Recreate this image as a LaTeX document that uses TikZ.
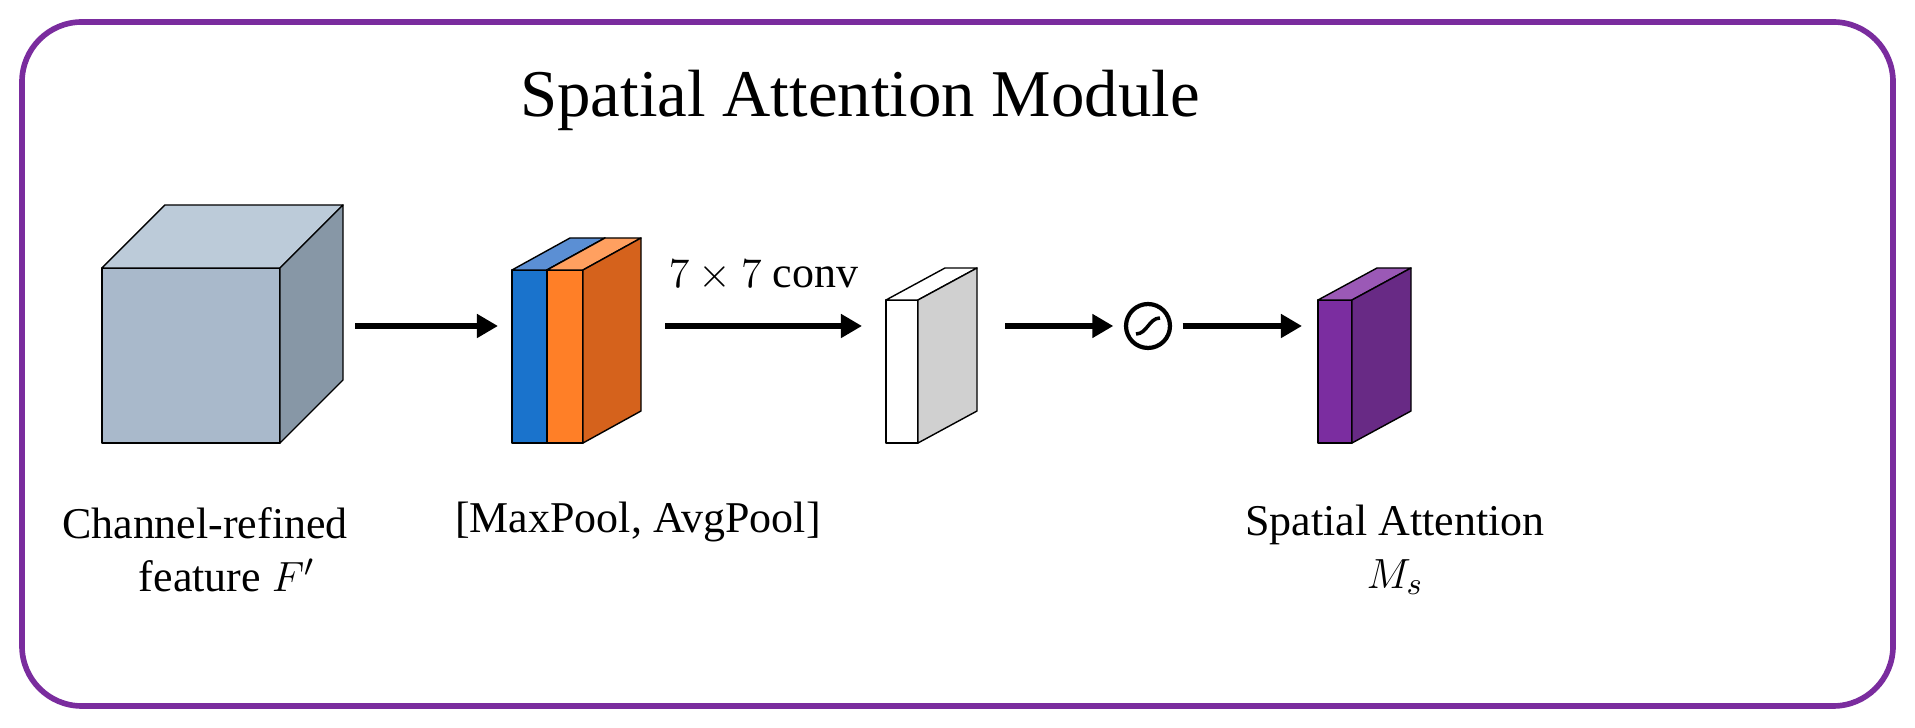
\documentclass[tikz,border=0pt]{standalone}
\usepackage{fontspec}
\setmainfont{Liberation Serif}
\usepackage{amsmath}
\usetikzlibrary{arrows.meta,calc,positioning}

\definecolor{cubefront}{HTML}{A9B9CB}
\definecolor{cubetop}{HTML}{BCCBD9}
\definecolor{cubeside}{HTML}{8797A6}
\definecolor{maxfront}{HTML}{1A73CC}
\definecolor{maxtop}{HTML}{5B8FD4}
\definecolor{avgfront}{HTML}{FF7F27}
\definecolor{avgtop}{HTML}{FFA060}
\definecolor{avgside}{HTML}{D5621C}
\definecolor{convside}{HTML}{D0D0D0}
\definecolor{attfront}{HTML}{7B2DA0}
\definecolor{atttop}{HTML}{9B59B6}
\definecolor{attside}{HTML}{682A85}
\definecolor{frame}{HTML}{7A2C9E}

% front face, top face and side face of a box
\newcommand{\boxthree}[9]{%
  \filldraw[fill=#7] (#1,#2) rectangle (#3,#4);
  \filldraw[fill=#8] (#1,#2) -- ++(#5,-#6) -- ($(#3,#2)+(#5,-#6)$) -- (#3,#2) -- cycle;
  \filldraw[fill=#9] (#3,#2) -- ++(#5,-#6) -- ($(#3,#4)+(#5,-#6)$) -- (#3,#4) -- cycle;
}

\begin{document}
\begin{tikzpicture}[x=0.01cm,y=-0.01cm,line join=round]
\tikzset{flow/.style={-{Triangle[length=6pt,width=6.5pt]},line width=1.5pt},
         lbl/.style={font=\fontsize{12.5}{15}\selectfont,align=center}}
\useasboundingbox (0,0) rectangle (1915,728);
\draw[frame,line width=1.6pt,rounded corners=17pt] (22,22) rectangle (1893,706);
\node[font=\fontsize{19}{22}\selectfont] (title) at (860,100) {Spatial Attention Module};

% blocks
\boxthree{102}{268}{280}{443}{63}{63}{cubefront}{cubetop}{cubeside}
\boxthree{512}{270}{547}{443}{58}{32}{maxfront}{maxtop}{maxfront}
\boxthree{547}{270}{583}{443}{58}{32}{avgfront}{avgtop}{avgside}
\boxthree{886}{300}{918}{443}{59}{32}{white}{white}{convside}
\boxthree{1318}{300}{1352}{443}{59}{32}{attfront}{atttop}{attside}

\node[circle,draw,line width=1.2pt,minimum size=12.5pt,inner sep=0pt] (sig) at (1148,326) {};
\draw[line width=1pt] ($(sig.center)+(-12,8)$) .. controls ($(sig.center)+(-1,8)$) and ($(sig.center)+(1,-8)$) .. ($(sig.center)+(12,-8)$);

\coordinate (cubeout) at (355,326);
\coordinate (poolin) at (498,326);
\coordinate (poolout) at (665,326);
\coordinate (convin) at (862,326);
\coordinate (convout) at (1005,326);
\coordinate (attin) at (1302,326);

\draw[flow] (cubeout) -- (poolin);
\draw[flow] (poolout) -- node[above=6pt,lbl] {$7\times 7$ conv} (convin);
\draw[flow,shorten >=3pt] (convout) -- (sig);
\draw[flow,shorten <=3pt] (sig) -- (attin);

% labels
\node[lbl] (featlbl) at (205,550) {Channel-refined\\\hspace*{1em}feature $F'$};
\node[lbl] (poollbl) at (638,522) {[MaxPool, AvgPool]};
\node[lbl] (attlbl) at (1395,550) {Spatial Attention\\$M_s$};
\end{tikzpicture}
\end{document}
